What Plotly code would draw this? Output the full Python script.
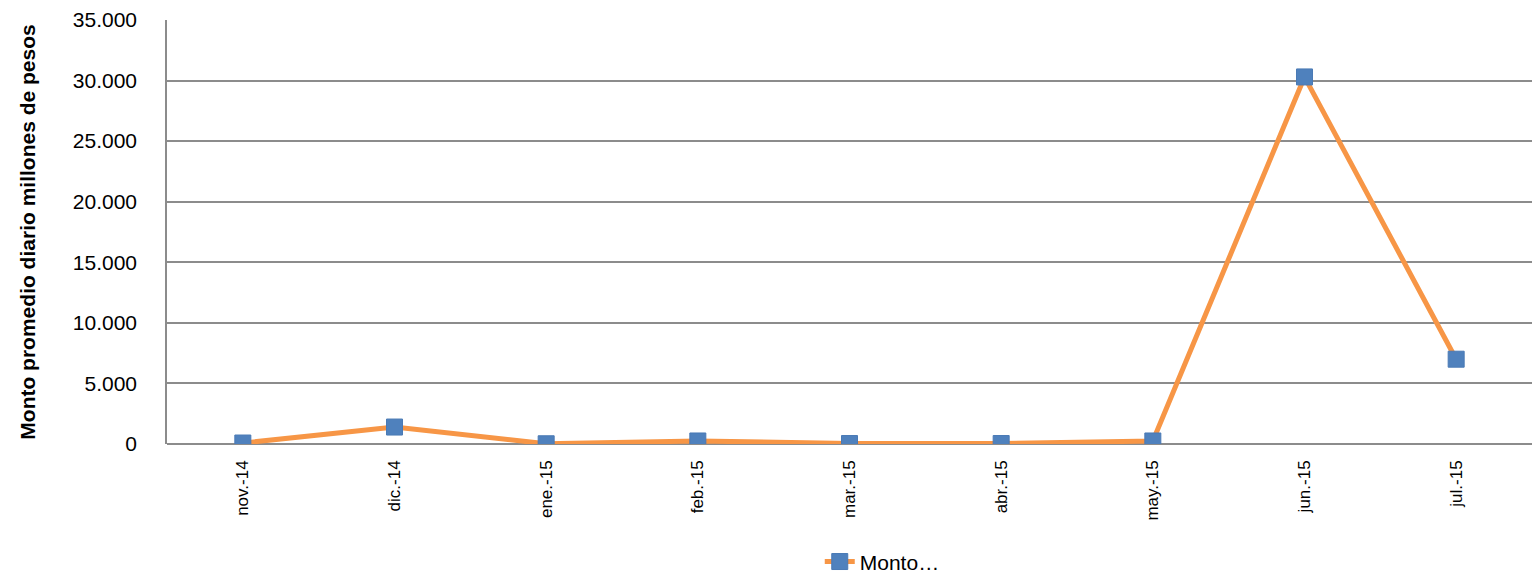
import plotly.graph_objects as go

meses = ["nov.-14", "dic.-14", "ene.-15", "feb.-15", "mar.-15",
         "abr.-15", "may.-15", "jun.-15", "jul.-15"]
monto = [80, 1400, 20, 250, 40, 40, 250, 30300, 7000]

fig = go.Figure()

fig.add_trace(go.Scatter(
    x=meses,
    y=monto,
    mode="lines+markers",
    name="Monto…",
    line=dict(color="#F79646", width=5),
    marker=dict(symbol="square", size=16, color="#4F81BD",
                line=dict(color="#4A7AB5", width=1)),
))

fig.update_layout(
    width=1532,
    height=574,
    margin=dict(l=167, r=0, t=20, b=130, autoexpand=False),
    paper_bgcolor="white",
    plot_bgcolor="white",
    separators=",.",
    font=dict(family="Liberation Sans, Arial, sans-serif", color="#000000"),
    showlegend=True,
    legend=dict(
        orientation="h",
        x=0.524, xanchor="center",
        y=-0.278, yanchor="middle",
        font=dict(size=21),
    ),
    xaxis=dict(
        type="category",
        range=[-0.5, 8.5],
        tickangle=-90,
        tickfont=dict(size=17),
        showgrid=False,
        showline=False,
        zeroline=False,
        ticklabelstandoff=12,
        automargin=False,
    ),
    yaxis=dict(
        range=[0, 35000],
        tickvals=[0, 5000, 10000, 15000, 20000, 25000, 30000, 35000],
        tickformat=",d",
        tickfont=dict(size=21),
        showgrid=True,
        gridcolor="#8C8C8C",
        gridwidth=1.5,
        zeroline=True,
        zerolinecolor="#8C8C8C",
        zerolinewidth=1.5,
        showline=True,
        linecolor="#8C8C8C",
        linewidth=1.5,
        ticklabelstandoff=24,
        automargin=False,
        title=dict(
            text="<b>Monto promedio diario millones de pesos</b>",
            font=dict(size=21),
            standoff=31,
        ),
    ),
)

# drop the default body margin so the figure fills the window exactly
fig.write_html("out.html", config={"displayModeBar": False},
               post_script="document.body.style.margin='0';")
